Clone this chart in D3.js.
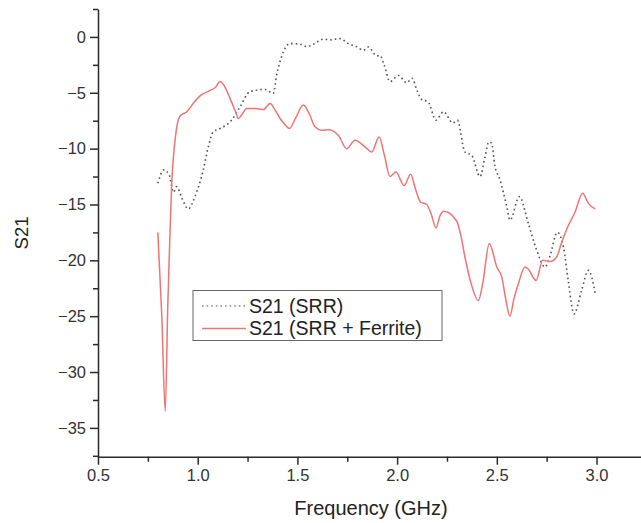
<!DOCTYPE html>
<html>
<head>
<meta charset="utf-8">
<script src="https://cdn.jsdelivr.net/npm/d3@7"></script>
<style>
  body { margin: 0; background: #fff; }
  text { font-family: "Liberation Sans", Arial, sans-serif; }
</style>
</head>
<body>
<div id="chart"></div>
<script>
// S21 of the bare SRR (dotted gray)
const srrFreq = [0.80, 0.831, 0.858, 0.878, 0.895, 0.92, 0.953, 0.986, 1.028, 1.053, 1.078, 1.112, 1.17, 1.212, 1.262, 1.337, 1.379, 1.396, 1.413, 1.43, 1.463, 1.513, 1.547, 1.58, 1.63, 1.663, 1.714, 1.755, 1.797, 1.83, 1.856, 1.898, 1.914, 1.935, 1.964, 2.006, 2.048, 2.075, 2.10, 2.123, 2.155, 2.195, 2.232, 2.28, 2.302, 2.34, 2.374, 2.416, 2.44, 2.46, 2.474, 2.49, 2.516, 2.55, 2.566, 2.613, 2.658, 2.70, 2.742, 2.767, 2.803, 2.834, 2.858, 2.887, 2.925, 2.959, 2.993];
const srrS21 = [-13.1, -11.9, -12.4, -13.9, -13.4, -14.4, -15.4, -14.3, -11.9, -9.85, -8.5, -8.2, -7.45, -6.26, -4.9, -4.7, -5.05, -3.4, -2.2, -1.3, -0.6, -0.65, -0.87, -0.66, -0.2, -0.27, -0.15, -0.6, -0.87, -1.2, -0.9, -1.7, -1.65, -2.5, -4.0, -3.45, -4.1, -3.7, -4.8, -5.6, -5.8, -7.45, -6.7, -7.7, -7.45, -10.3, -10.6, -12.5, -10.8, -9.4, -9.5, -11.5, -12.8, -15.2, -16.4, -14.3, -16.7, -19.1, -20.6, -19.6, -17.5, -18.8, -21.8, -24.8, -22.7, -20.9, -22.9];

// S21 of SRR + ferrite (solid red)
const ferFreq = [0.80, 0.82, 0.837, 0.85, 0.862, 0.87, 0.885, 0.90, 0.911, 0.945, 0.98, 1.01, 1.06, 1.09, 1.112, 1.14, 1.162, 1.19, 1.204, 1.22, 1.246, 1.29, 1.329, 1.363, 1.39, 1.413, 1.44, 1.46, 1.49, 1.53, 1.56, 1.588, 1.62, 1.655, 1.705, 1.747, 1.789, 1.839, 1.872, 1.91, 1.935, 1.964, 1.994, 2.035, 2.068, 2.09, 2.118, 2.148, 2.17, 2.195, 2.215, 2.235, 2.299, 2.32, 2.34, 2.37, 2.407, 2.43, 2.462, 2.50, 2.525, 2.545, 2.566, 2.585, 2.608, 2.641, 2.658, 2.697, 2.73, 2.767, 2.80, 2.825, 2.858, 2.892, 2.93, 2.959, 2.993];
const ferS21 = [-17.5, -25, -33.5, -24, -17, -13, -9.5, -7.6, -7.1, -6.7, -5.9, -5.3, -4.8, -4.5, -4.0, -4.6, -5.5, -6.7, -7.3, -7.0, -6.4, -6.4, -6.5, -5.95, -6.6, -7.3, -7.9, -8.2, -7.3, -6.1, -6.9, -8.05, -8.35, -8.3, -8.8, -10.0, -9.25, -9.85, -10.3, -8.95, -10.5, -12.5, -12.1, -13.3, -12.3, -13.5, -14.8, -15.0, -15.8, -17.1, -16.0, -15.6, -16.5, -17.8, -19.7, -22, -23.6, -22, -18.5, -20.6, -21.5, -23.5, -25.0, -23.5, -22.1, -20.6, -20.8, -21.8, -20.0, -20.1, -19.7, -18.4, -16.9, -15.7, -14.0, -14.9, -15.4];

const xMajor = [0.5, 1.0, 1.5, 2.0, 2.5, 3.0];
const xMinor = [0.75, 1.25, 1.75, 2.25, 2.75];
const yMajor = [0, -5, -10, -15, -20, -25, -30, -35];
const yMinor = [2.5, -2.5, -7.5, -12.5, -17.5, -22.5, -27.5, -32.5, -37.5];

const seriesNames = ["S21 (SRR)", "S21 (SRR + Ferrite)"];

const width = 641, height = 523;
const margin = {top: 9, right: 0, bottom: 67, left: 98};
const red = "#f07474", gray = "#555";

const svg = d3.select("#chart").append("svg")
    .attr("width", width)
    .attr("height", height);

const x = d3.scaleLinear()
    .domain([0.5, 3.223])
    .range([margin.left, width - margin.right]);

const y = d3.scaleLinear()
    .domain([-37.58, 2.5])
    .range([height - margin.bottom + 0.7, margin.top]);

const line = d3.line()
    .x(d => x(d[0]))
    .y(d => y(d[1]))
    .curve(d3.curveMonotoneX);

const srr = srrFreq.map((f, i) => [f, srrS21[i]]);
const fer = ferFreq.map((f, i) => [f, ferS21[i]]);

svg.append("path")
    .datum(srr)
    .attr("d", line)
    .attr("fill", "none")
    .attr("stroke", gray)
    .attr("stroke-width", 1.6)
    .attr("stroke-dasharray", "1.6,3");

svg.append("path")
    .datum(fer)
    .attr("d", line)
    .attr("fill", "none")
    .attr("stroke", red)
    .attr("stroke-width", 1.5);

// axes
const axisColor = "#2b2b2b";
const yAxis = svg.append("g")
    .attr("transform", `translate(${margin.left},0)`)
    .call(d3.axisLeft(y).tickValues(yMajor).tickSize(8).tickSizeOuter(0).tickFormat(d3.format("d")));
svg.append("g")
    .attr("transform", `translate(${margin.left},0)`)
    .call(d3.axisLeft(y).tickValues(yMinor).tickSize(5).tickSizeOuter(0).tickFormat(""))
    .call(g => g.select(".domain").remove());

const xAxis = svg.append("g")
    .attr("transform", `translate(0,${y(-37.58)})`)
    .call(d3.axisBottom(x).tickValues(xMajor).tickSize(8).tickSizeOuter(0).tickFormat(d3.format(".1f")));
svg.append("g")
    .attr("transform", `translate(0,${y(-37.58)})`)
    .call(d3.axisBottom(x).tickValues(xMinor).tickSize(5).tickSizeOuter(0).tickFormat(""))
    .call(g => g.select(".domain").remove());

svg.selectAll(".domain, .tick line")
    .attr("stroke", axisColor)
    .attr("stroke-width", 1.5);
svg.selectAll(".tick text")
    .attr("fill", "#333")
    .style("font-size", "16.5px");
yAxis.selectAll(".tick text").attr("x", -12);
xAxis.selectAll(".tick text").attr("y", 13);

// axis titles
svg.append("text")
    .attr("transform", `translate(28,233) rotate(-90)`)
    .attr("text-anchor", "middle")
    .attr("fill", "#222")
    .style("font-size", "18.5px")
    .text("S21");

svg.append("text")
    .attr("x", 371)
    .attr("y", 515)
    .attr("text-anchor", "middle")
    .attr("fill", "#222")
    .style("font-size", "20px")
    .text("Frequency (GHz)");

// legend
const legend = svg.append("g");
legend.append("rect")
    .attr("x", 193).attr("y", 290.5)
    .attr("width", 249).attr("height", 50)
    .attr("fill", "#fff")
    .attr("stroke", "#666")
    .attr("stroke-width", 1);

const styles = [
  {stroke: "#888", dash: "1.6,3"},
  {stroke: red, dash: null}
];
seriesNames.forEach((name, i) => {
  const yy = 306 + i * 22.5;
  legend.append("line")
      .attr("x1", 202).attr("x2", 246)
      .attr("y1", yy).attr("y2", yy)
      .attr("stroke", styles[i].stroke)
      .attr("stroke-width", 1.5)
      .attr("stroke-dasharray", styles[i].dash);
  legend.append("text")
      .attr("x", 249).attr("y", yy)
      .attr("dy", "0.35em")
      .attr("fill", "#222")
      .style("font-size", "19.5px")
      .text(name);
});
</script>
</body>
</html>
